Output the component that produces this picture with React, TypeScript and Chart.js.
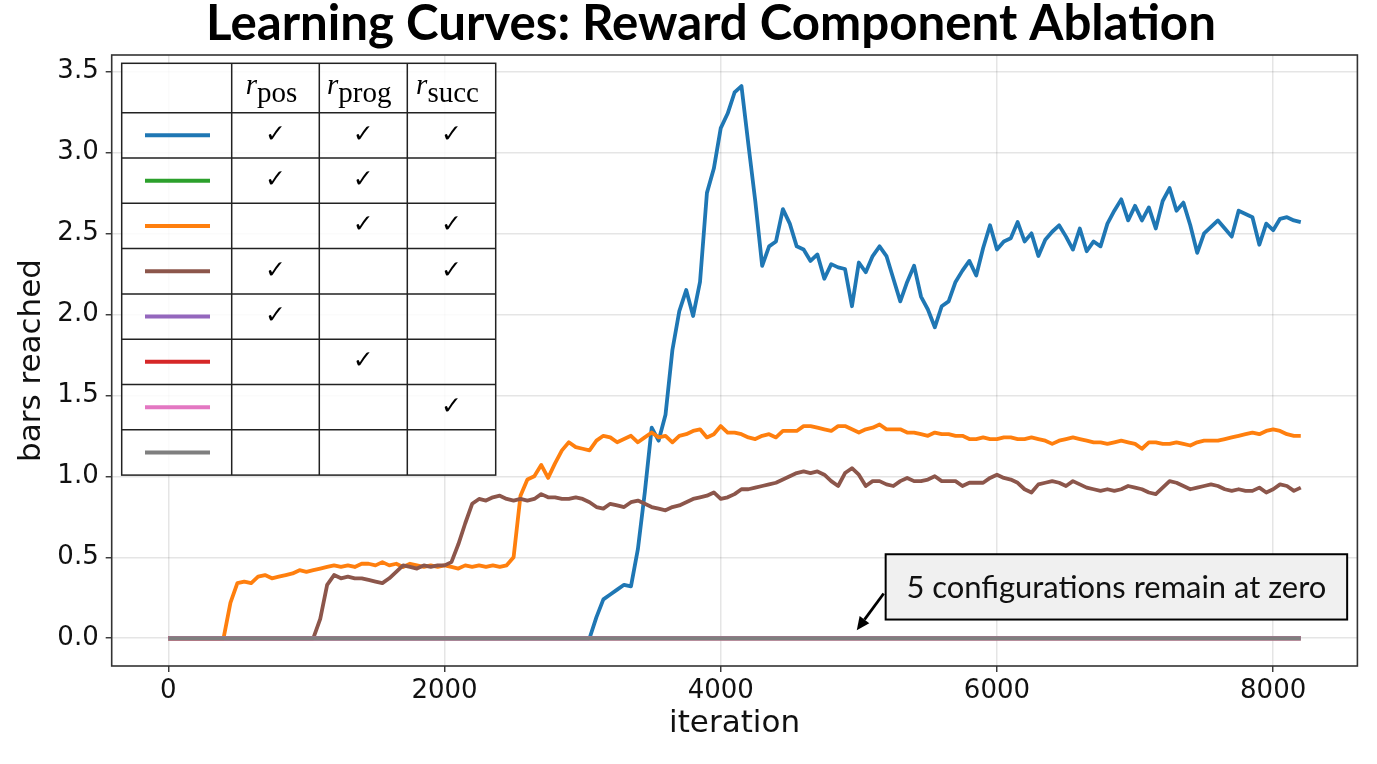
import { useEffect, useRef } from 'react';
import { Chart, registerables } from 'chart.js';

Chart.register(...registerables);

// logged iterations (every 50 steps)
const iterations = [
  0, 50, 100, 150, 200, 250, 300, 350, 400, 450,
  500, 550, 600, 650, 700, 750, 800, 850, 900, 950,
  1000, 1050, 1100, 1150, 1200, 1250, 1300, 1350, 1400, 1450,
  1500, 1550, 1600, 1650, 1700, 1750, 1800, 1850, 1900, 1950,
  2000, 2050, 2100, 2150, 2200, 2250, 2300, 2350, 2400, 2450,
  2500, 2550, 2600, 2650, 2700, 2750, 2800, 2850, 2900, 2950,
  3000, 3050, 3100, 3150, 3200, 3250, 3300, 3350, 3400, 3450,
  3500, 3550, 3600, 3650, 3700, 3750, 3800, 3850, 3900, 3950,
  4000, 4050, 4100, 4150, 4200, 4250, 4300, 4350, 4400, 4450,
  4500, 4550, 4600, 4650, 4700, 4750, 4800, 4850, 4900, 4950,
  5000, 5050, 5100, 5150, 5200, 5250, 5300, 5350, 5400, 5450,
  5500, 5550, 5600, 5650, 5700, 5750, 5800, 5850, 5900, 5950,
  6000, 6050, 6100, 6150, 6200, 6250, 6300, 6350, 6400, 6450,
  6500, 6550, 6600, 6650, 6700, 6750, 6800, 6850, 6900, 6950,
  7000, 7050, 7100, 7150, 7200, 7250, 7300, 7350, 7400, 7450,
  7500, 7550, 7600, 7650, 7700, 7750, 7800, 7850, 7900, 7950,
  8000, 8050, 8100, 8150, 8200,
];

// pos + prog + succ (blue)
const allRewardsBars = [
  0, 0, 0, 0, 0, 0, 0, 0, 0, 0,
  0, 0, 0, 0, 0, 0, 0, 0, 0, 0,
  0, 0, 0, 0, 0, 0, 0, 0, 0, 0,
  0, 0, 0, 0, 0, 0, 0, 0, 0, 0,
  0, 0, 0, 0, 0, 0, 0, 0, 0, 0,
  0, 0, 0, 0, 0, 0, 0, 0, 0, 0,
  0, 0, 0.13, 0.24, 0.27, 0.30, 0.33, 0.32, 0.55, 0.90,
  1.30, 1.22, 1.38, 1.78, 2.02, 2.15, 1.99, 2.20, 2.75, 2.90,
  3.15, 3.24, 3.37, 3.41, 3.05, 2.70, 2.30, 2.42, 2.45, 2.65,
  2.56, 2.42, 2.40, 2.33, 2.37, 2.22, 2.31, 2.29, 2.28, 2.05,
  2.32, 2.26, 2.36, 2.42, 2.36, 2.22, 2.08, 2.20, 2.30, 2.11,
  2.03, 1.92, 2.05, 2.08, 2.20, 2.27, 2.33, 2.24, 2.41, 2.55,
  2.40, 2.45, 2.47, 2.57, 2.45, 2.50, 2.36, 2.46, 2.51, 2.55,
  2.48, 2.40, 2.53, 2.39, 2.45, 2.42, 2.56, 2.64, 2.71, 2.58,
  2.67, 2.58, 2.66, 2.53, 2.70, 2.78, 2.64, 2.69, 2.55, 2.38,
  2.50, 2.54, 2.58, 2.53, 2.48, 2.64, 2.62, 2.60, 2.43, 2.56,
  2.52, 2.59, 2.60, 2.58, 2.57,
];

// prog + succ (orange)
const progSuccBars = [
  0, 0, 0, 0, 0, 0, 0, 0, 0, 0.22,
  0.34, 0.35, 0.34, 0.38, 0.39, 0.37, 0.38, 0.39, 0.40, 0.42,
  0.41, 0.42, 0.43, 0.44, 0.45, 0.44, 0.45, 0.44, 0.46, 0.46,
  0.45, 0.47, 0.45, 0.46, 0.44, 0.46, 0.45, 0.44, 0.45, 0.44,
  0.45, 0.44, 0.43, 0.45, 0.44, 0.45, 0.44, 0.45, 0.44, 0.45,
  0.50, 0.88, 0.98, 1.00, 1.07, 0.99, 1.08, 1.16, 1.21, 1.18,
  1.17, 1.16, 1.22, 1.25, 1.24, 1.21, 1.23, 1.25, 1.21, 1.24,
  1.27, 1.24, 1.25, 1.21, 1.25, 1.26, 1.28, 1.29, 1.24, 1.26,
  1.31, 1.27, 1.27, 1.26, 1.24, 1.23, 1.25, 1.26, 1.24, 1.28,
  1.28, 1.28, 1.31, 1.31, 1.30, 1.29, 1.28, 1.31, 1.31, 1.29,
  1.27, 1.29, 1.30, 1.32, 1.29, 1.29, 1.29, 1.27, 1.27, 1.26,
  1.25, 1.27, 1.26, 1.26, 1.25, 1.25, 1.23, 1.23, 1.24, 1.23,
  1.23, 1.24, 1.24, 1.23, 1.23, 1.24, 1.23, 1.22, 1.20, 1.22,
  1.23, 1.24, 1.23, 1.22, 1.21, 1.21, 1.20, 1.21, 1.22, 1.21,
  1.20, 1.17, 1.21, 1.21, 1.20, 1.20, 1.21, 1.20, 1.19, 1.21,
  1.22, 1.22, 1.22, 1.23, 1.24, 1.25, 1.26, 1.27, 1.26, 1.28,
  1.29, 1.28, 1.26, 1.25, 1.25,
];

// pos + succ (brown)
const posSuccBars = [
  0, 0, 0, 0, 0, 0, 0, 0, 0, 0,
  0, 0, 0, 0, 0, 0, 0, 0, 0, 0,
  0, 0, 0.12, 0.33, 0.39, 0.37, 0.38, 0.37, 0.37, 0.36,
  0.35, 0.34, 0.37, 0.41, 0.45, 0.44, 0.43, 0.45, 0.44, 0.45,
  0.45, 0.47, 0.58, 0.71, 0.83, 0.86, 0.85, 0.87, 0.88, 0.86,
  0.85, 0.86, 0.85, 0.86, 0.89, 0.87, 0.87, 0.86, 0.86, 0.87,
  0.86, 0.84, 0.81, 0.80, 0.83, 0.82, 0.81, 0.84, 0.85, 0.83,
  0.81, 0.80, 0.79, 0.81, 0.82, 0.84, 0.86, 0.87, 0.88, 0.90,
  0.86, 0.87, 0.89, 0.92, 0.92, 0.93, 0.94, 0.95, 0.96, 0.98,
  1.00, 1.02, 1.03, 1.02, 1.03, 1.01, 0.97, 0.94, 1.02, 1.05,
  1.01, 0.94, 0.97, 0.97, 0.95, 0.94, 0.97, 0.99, 0.97, 0.97,
  0.98, 1.00, 0.97, 0.97, 0.97, 0.94, 0.96, 0.96, 0.96, 0.99,
  1.01, 0.99, 0.98, 0.96, 0.92, 0.90, 0.95, 0.96, 0.97, 0.96,
  0.94, 0.97, 0.95, 0.93, 0.92, 0.91, 0.92, 0.91, 0.92, 0.94,
  0.93, 0.92, 0.90, 0.89, 0.93, 0.97, 0.96, 0.94, 0.92, 0.93,
  0.94, 0.95, 0.94, 0.92, 0.91, 0.92, 0.91, 0.91, 0.93, 0.90,
  0.92, 0.95, 0.94, 0.91, 0.93,
];

// the five configurations that never leave zero
const flatIterations = [0, 8200];
const zeroBars = [0, 0];

const configColors = ['#1f77b4', '#2ca02c', '#ff7f0e', '#8c564b', '#9467bd', '#d62728', '#e377c2', '#7f7f7f'];
const usesPos = [true, true, false, true, true, false, false, false];
const usesProg = [true, true, true, false, false, true, false, false];
const usesSucc = [true, false, true, true, false, false, true, false];
const rewardNames = ['pos', 'prog', 'succ'];

const xTicks = [0, 2000, 4000, 6000, 8000];
const yTicks = [0, 0.5, 1.0, 1.5, 2.0, 2.5, 3.0, 3.5];

const titleText = 'Learning Curves: Reward Component Ablation';
const noteText = '5 configurations remain at zero';
const noteCenter = { x: 6865, y: 0.317 };
const arrowFrom = { x: 5180, y: 0.276 };
const arrowTo = { x: 4985, y: 0.05 };

const curves = [
  { xs: iterations, ys: allRewardsBars },
  { xs: flatIterations, ys: zeroBars },
  { xs: iterations, ys: progSuccBars },
  { xs: iterations, ys: posSuccBars },
  { xs: flatIterations, ys: zeroBars },
  { xs: flatIterations, ys: zeroBars },
  { xs: flatIterations, ys: zeroBars },
  { xs: flatIterations, ys: zeroBars },
];

const fitSize = (ctx: CanvasRenderingContext2D, text: string, font: (s: number) => string, width: number) => {
  ctx.font = font(100);
  return (100 * width) / ctx.measureText(text).width;
};

const decorPlugin = {
  id: 'decor',
  afterDraw(chart: any) {
    const { ctx, chartArea: area, scales } = chart;
    const sx = scales.x;
    const sy = scales.y;
    ctx.save();

    // title
    const tFont = (s: number) => `bold ${s}px Lato`;
    ctx.font = tFont(fitSize(ctx, titleText, tFont, 1010));
    ctx.fillStyle = '#000';
    ctx.textAlign = 'center';
    ctx.textBaseline = 'alphabetic';
    ctx.fillText(titleText, 711, 40);

    // frame
    ctx.strokeStyle = '#333';
    ctx.lineWidth = 1.6;
    ctx.strokeRect(area.left, area.top, area.right - area.left, area.bottom - area.top);

    // table legend
    const left = area.left + 10;
    const top = area.top + 8.3;
    const colW = [110, 87.6, 88, 88.4];
    const headH = 49.4;
    const rowH = 45.3;
    const width = colW.reduce((a, b) => a + b, 0);
    const height = headH + rowH * configColors.length;
    ctx.fillStyle = 'rgba(255,255,255,0.82)';
    ctx.fillRect(left, top, width, height);

    configColors.forEach((color, i) => {
      const cy = top + headH + rowH * i + rowH / 2;
      ctx.strokeStyle = color;
      ctx.lineWidth = 4;
      ctx.beginPath();
      ctx.moveTo(left + 23.3, cy);
      ctx.lineTo(left + 88.3, cy);
      ctx.stroke();
      const marks = [usesPos[i], usesProg[i], usesSucc[i]];
      let cx = left + colW[0];
      marks.forEach((on, j) => {
        if (on) {
          ctx.fillStyle = '#000';
          ctx.font = '25px "DejaVu Sans"';
          ctx.textAlign = 'center';
          ctx.textBaseline = 'middle';
          ctx.fillText('\u2713', cx + colW[j + 1] / 2, cy);
        }
        cx += colW[j + 1];
      });
    });

    // header r_sub
    let hx = left + colW[0];
    rewardNames.forEach((name, j) => {
      ctx.font = 'italic 29px "Liberation Serif"';
      const rw = ctx.measureText('r').width;
      ctx.font = '29px "Liberation Serif"';
      const sw = ctx.measureText(name).width;
      const start = hx + colW[j + 1] / 2 - (rw + sw) / 2 - 4;
      ctx.fillStyle = '#000';
      ctx.textAlign = 'left';
      ctx.textBaseline = 'alphabetic';
      ctx.font = 'italic 29px "Liberation Serif"';
      ctx.fillText('r', start, top + 31);
      ctx.font = '29px "Liberation Serif"';
      ctx.fillText(name, start + rw, top + 38.4);
      hx += colW[j + 1];
    });

    ctx.strokeStyle = '#222';
    ctx.lineWidth = 1.5;
    ctx.strokeRect(left, top, width, height);
    ctx.beginPath();
    let gx = left;
    colW.slice(0, 3).forEach((w) => {
      gx += w;
      ctx.moveTo(gx, top);
      ctx.lineTo(gx, top + height);
    });
    for (let i = 0; i < configColors.length; i++) {
      const gy = top + headH + rowH * i;
      ctx.moveTo(left, gy);
      ctx.lineTo(left + width, gy);
    }
    ctx.stroke();

    // annotation
    const nx = sx.getPixelForValue(noteCenter.x);
    const ny = sy.getPixelForValue(noteCenter.y);
    const nFont = (s: number) => `${s}px Lato`;
    ctx.font = nFont(fitSize(ctx, noteText, nFont, 420));
    const boxW = 461.5;
    const boxH = 65.3;
    ctx.fillStyle = '#f0f0f0';
    ctx.fillRect(nx - boxW / 2, ny - boxH / 2, boxW, boxH);
    ctx.strokeStyle = '#000';
    ctx.lineWidth = 2;
    ctx.strokeRect(nx - boxW / 2, ny - boxH / 2, boxW, boxH);
    ctx.fillStyle = '#111';
    ctx.textAlign = 'center';
    ctx.textBaseline = 'middle';
    ctx.fillText(noteText, nx, ny + 1);

    const ax0 = sx.getPixelForValue(arrowFrom.x);
    const ay0 = sy.getPixelForValue(arrowFrom.y);
    const ax1 = sx.getPixelForValue(arrowTo.x);
    const ay1 = sy.getPixelForValue(arrowTo.y);
    const ang = Math.atan2(ay1 - ay0, ax1 - ax0);
    const headL = 13;
    const headW = 6;
    const bx = ax1 - headL * Math.cos(ang);
    const by = ay1 - headL * Math.sin(ang);
    ctx.strokeStyle = '#000';
    ctx.lineWidth = 2.8;
    ctx.beginPath();
    ctx.moveTo(ax0, ay0);
    ctx.lineTo(bx, by);
    ctx.stroke();
    ctx.fillStyle = '#000';
    ctx.beginPath();
    ctx.moveTo(ax1, ay1);
    ctx.lineTo(bx + headW * Math.sin(ang), by - headW * Math.cos(ang));
    ctx.lineTo(bx - headW * Math.sin(ang), by + headW * Math.cos(ang));
    ctx.closePath();
    ctx.fill();

    ctx.restore();
  },
};

export default function App() {
  const canvasRef = useRef<HTMLCanvasElement>(null);

  useEffect(() => {
    const canvas = canvasRef.current;
    if (!canvas) return;
    const tickFont = { family: 'DejaVu Sans', size: 26 };
    const titleFont = { family: 'DejaVu Sans', size: 31 };
    const chart = new Chart(canvas, {
      type: 'line',
      data: {
        datasets: curves.map((c, i) => ({
          data: c.xs.map((x, k) => ({ x, y: c.ys[k] })),
          borderColor: configColors[i],
          borderWidth: 3.8,
          pointRadius: 0,
          tension: 0,
          borderJoinStyle: 'round' as const,
          fill: false,
          order: curves.length - 1 - i,
        })),
      },
      options: {
        animation: false,
        responsive: false,
        layout: { padding: { left: 0, top: 55, right: 19.6, bottom: 0 } },
        plugins: { legend: { display: false }, title: { display: false }, tooltip: { enabled: false } },
        scales: {
          x: {
            type: 'linear',
            min: -410,
            max: 8610,
            afterFit: (s: any) => { s.height = 98; },
            afterBuildTicks: (s: any) => { s.ticks = xTicks.map((v) => ({ value: v })); },
            grid: { color: 'rgba(0,0,0,0.1)', lineWidth: 1.5, tickColor: '#333', tickLength: 6, tickWidth: 1.4 },
            border: { display: false },
            ticks: {
              font: tickFont,
              color: '#111',
              padding: 3.4,
              maxRotation: 0,
              autoSkip: false,
              callback: (v: any) => String(v),
            },
            title: { display: true, text: 'iteration', font: titleFont, color: '#111', padding: { top: 0, bottom: 21.4 } },
          },
          y: {
            type: 'linear',
            min: -0.1715,
            max: 3.6015,
            afterFit: (s: any) => { s.width = 111.7; },
            afterBuildTicks: (s: any) => { s.ticks = yTicks.map((v) => ({ value: v })); },
            grid: { color: 'rgba(0,0,0,0.1)', lineWidth: 1.5, tickColor: '#333', tickLength: 6, tickWidth: 1.4 },
            border: { display: false },
            ticks: {
              font: tickFont,
              color: '#111',
              padding: 7,
              callback: (v: any) => Number(v).toFixed(1),
            },
            title: { display: true, text: 'bars reached', font: titleFont, color: '#111', padding: { top: 13.7, bottom: 0 } },
          },
        },
      },
      plugins: [decorPlugin],
    });
    return () => chart.destroy();
  }, []);

  return (
    <div style={{ position: 'absolute', left: 0, top: 0, width: 1377, height: 764, background: '#fff' }}>
      <canvas ref={canvasRef} width={1377} height={764} style={{ width: 1377, height: 764 }} />
    </div>
  );
}
